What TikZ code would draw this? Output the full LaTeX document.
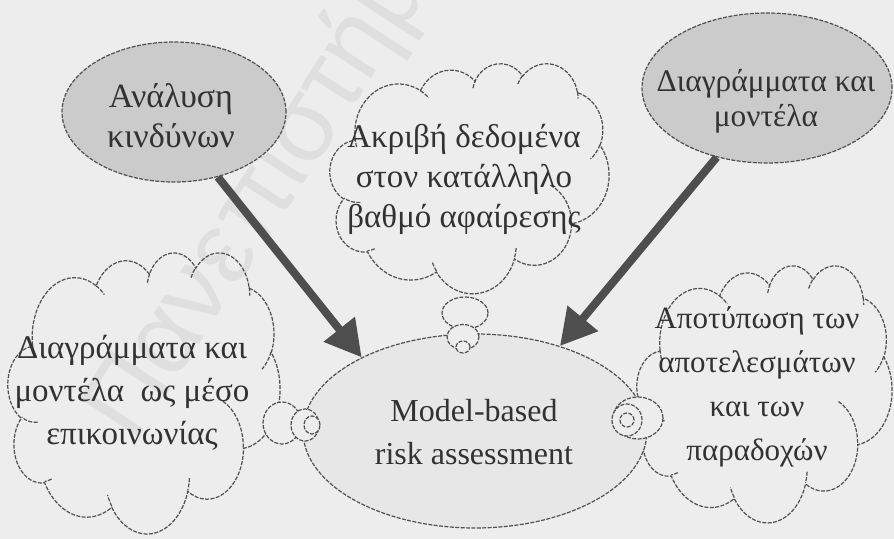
\documentclass[tikz,border=0pt]{standalone}
\usepackage{fontspec}
\setmainfont{Liberation Serif}
\newfontfamily\wmfont{Liberation Sans}
\usetikzlibrary{shapes.geometric,arrows.meta}

\definecolor{paper}{RGB}{237,237,237}
\definecolor{inkline}{RGB}{80,80,80}
\definecolor{darkfill}{RGB}{203,203,203}
\definecolor{mainfill}{RGB}{231,231,231}
\definecolor{arrowgray}{RGB}{78,78,78}
\definecolor{txt}{RGB}{50,50,50}
\definecolor{wm}{RGB}{223,223,223}

% elliptic arc whose start and sweep are given as visual angles
% (radii and angles as in an OOXML arcTo, radii scaled by 1/100)
\newcommand\visarc[4]{arc[x radius=#1, y radius=#2,
  start angle={atan2((#1)*sin(#3),(#2)*cos(#3))},
  delta angle={mod(atan2((#1)*sin((#3)+(#4)),(#2)*cos((#3)+(#4)))-atan2((#1)*sin(#3),(#2)*cos(#3))+720,360)}]}

% cloud outline with its inner puff strokes, in a 432 x 432 frame
\newcommand\cloudshape{%
  \draw[outline] (39,143.7)
    \visarc{67.53}{91.90}{-190.4875}{123.7805}
    \visarc{53.33}{72.67}{-144.1024}{89.9452}
    \visarc{43.65}{59.45}{-145.8079}{99.7230}
    \visarc{48.57}{65.95}{-130.9861}{117.2417}
    \visarc{53.33}{72.73}{-78.7089}{109.0269}
    \visarc{67.75}{92.20}{-46.2673}{130.2690}
    \visarc{57.85}{78.67}{0.6250}{114.0333}
    \visarc{67.52}{92.15}{22.4516}{115.1726}
    \visarc{77.20}{105.43}{66.2426}{75.7110}
    \visarc{43.60}{59.18}{-274.9421}{146.7356}
    \visarc{43.45}{59.45}{-246.8285}{152.5189} -- cycle;
  \draw[outline]
    (46.93,261.77) \visarc{43.45}{59.45}{86.742}{26.4295}
    (69.28,348.99) \visarc{43.60}{59.18}{73.6105}{11.4475}
    (164.78,390.90) \visarc{67.52}{92.15}{137.6242}{14.0811}
    (288.27,347.51) \visarc{67.52}{92.15}{6.4533}{15.9984}
    (341.29,229.54) \visarc{57.85}{78.67}{-70.2924}{70.9174}
    (417.98,153.54) \visarc{53.33}{72.73}{30.3180}{27.7515}
    (383.24,54.26) \visarc{48.57}{65.95}{-13.7443}{14.8589}
    (290.78,39.52) \visarc{48.57}{65.95}{-149.1815}{18.1954}
    (221.41,47.20) \visarc{43.65}{59.45}{-163.4943}{17.6864}
    (140.00,51.92) \visarc{67.53}{91.90}{-66.7070}{12.3194}
    (41.27,157.89) \visarc{67.53}{91.90}{157.6544}{11.8582};
}

\begin{document}
\begin{tikzpicture}[x=0.5pt,y=-0.5pt,
  outline/.style={draw=inkline, line width=0.6pt, dash pattern=on 2pt off 0.7pt},
  lbl/.style={text=txt, align=center, inner sep=0pt},
  topic/.style={ellipse, outline, fill=darkfill, inner sep=0pt},
  bubble/.style={ellipse, outline, fill=paper, inner sep=0pt},
  feed/.style={draw=arrowgray, line width=4pt, -{Triangle[length=18pt,width=19pt]}}
]
% page
\fill[paper] (0,0) rectangle (894,539);
\useasboundingbox (0,0) rectangle (894,539);

% faint background stamp
\node[rotate=57, text=wm, inner sep=0pt, font=\wmfont\fontsize{51.5}{51.5}\selectfont] (stamp) at (281,167) {Πανεπιστήμιο};

% thought clouds
\begin{scope}[shift={(330,63)}, x=0.32292pt, y=-0.26620pt]
  \cloudshape
  \coordinate (accurate) at (216,216);
\end{scope}
\begin{scope}[shift={(8,252)}, x=0.31481pt, y=-0.32523pt]
  \cloudshape
  \coordinate (comm) at (216,216);
\end{scope}
\begin{scope}[shift={(637,265)}, x=0.29514pt, y=-0.29745pt]
  \cloudshape
  \coordinate (results) at (216,216);
\end{scope}

% inputs and the central process
\node[topic, minimum width=112pt, minimum height=70pt] (risk) at (174,112) {};
\node[topic, minimum width=125pt, minimum height=75pt] (models) at (767,88) {};
\node[ellipse, outline, fill=mainfill, minimum width=172pt, minimum height=97pt] (main) at (475,431) {};

% texts
\node[lbl, font=\fontsize{17}{20}\selectfont] (riskText) at (171,116) {Ανάλυση\\κινδύνων};
\node[lbl, font=\fontsize{15.7}{17.5}\selectfont] (modelsText) at (766,101) {Διαγράμματα και\\μοντέλα};
\node[lbl, font=\fontsize{16.5}{20}\selectfont] (accurateText) at (464,179) {Ακριβή δεδομένα\\στον κατάλληλο\\βαθμό αφαίρεσης};
\node[lbl, font=\fontsize{16.5}{21.5}\selectfont] (commText) at (132,393) {Διαγράμματα και\\μοντέλα\ \ ως μέσο\\επικοινωνίας};
\node[lbl, font=\fontsize{15.5}{22}\selectfont] (resultsText) at (757,387) {Αποτύπωση των\\αποτελεσμάτων\\και των\\παραδοχών};
\node[lbl, font=\fontsize{16}{21.5}\selectfont] (mainText) at (474,432) {Model-based\\risk assessment};

% arrows into the central process
\draw[feed] (risk.-56) -- (main.147);
\draw[feed] (models.-126) -- (main.45);

% thought bubbles joining the clouds to the central process
\node[bubble, minimum width=23pt, minimum height=16pt] (accB1) at (465,313) {};
\node[bubble, minimum width=16pt, minimum height=12.5pt] (accB2) at (463,337) {};
\node[bubble, minimum width=7pt, minimum height=6pt] (accB3) at (463,347) {};

\node[bubble, minimum width=19pt, minimum height=21pt] (comB1) at (282,423) {};
\node[bubble, minimum width=14pt, minimum height=16pt] (comB2) at (305,425) {};
\node[bubble, minimum width=8pt, minimum height=9pt] (comB3) at (312,425) {};

\node[bubble, minimum width=25pt, minimum height=21pt] (resB1) at (638,418) {};
\node[bubble, minimum width=15pt, minimum height=16pt] (resB2) at (627,420) {};
\node[bubble, minimum width=7pt, minimum height=7pt] (resB3) at (627,420) {};
\end{tikzpicture}
\end{document}
